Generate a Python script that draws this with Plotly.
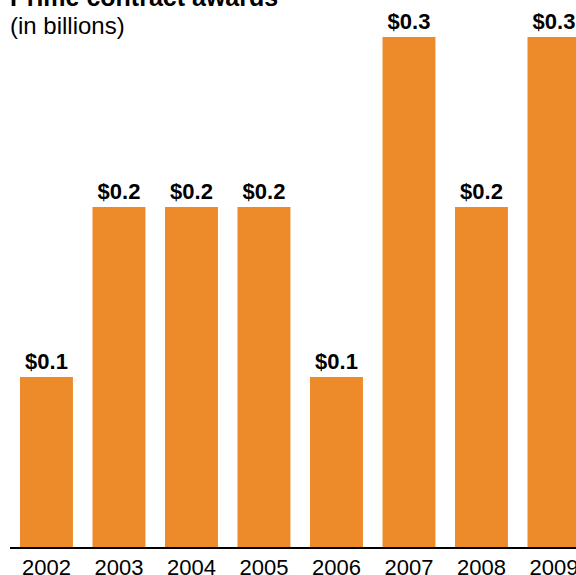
import plotly.graph_objects as go

# Prime contract awards, in billions of dollars
years = ["2002", "2003", "2004", "2005", "2006", "2007", "2008", "2009"]
awards = [0.1, 0.2, 0.2, 0.2, 0.1, 0.3, 0.2, 0.3]

BAR_COLOR = "#ED8A2A"
FONT = "Liberation Sans, Arial, sans-serif"

fig = go.Figure(
    go.Bar(
        x=years,
        y=awards,
        marker=dict(color=BAR_COLOR, line=dict(width=0)),
        width=0.73,
        texttemplate="<b>$%{y:.1f}</b>",
        textposition="outside",
        textfont=dict(family=FONT, size=22, color="black"),
        cliponaxis=False,
        hoverinfo="skip",
    )
)

fig.update_layout(
    width=576,
    height=575,
    margin=dict(l=10, r=0, t=0, b=28),
    paper_bgcolor="white",
    plot_bgcolor="white",
    showlegend=False,
    font=dict(family=FONT, color="black"),
)
fig.update_xaxes(
    type="category",
    range=[-0.503, 7.304],
    automargin=False,
    showline=True, linecolor="black", linewidth=2,
    ticks="", showgrid=False, zeroline=False,
    tickfont=dict(size=22, color="black"),
)
fig.update_yaxes(
    range=[0, 0.3218],
    automargin=False,
    showticklabels=False, showgrid=False, zeroline=False, showline=False,
)

fig.add_annotation(
    text="<b>Prime contract awards</b>", xref="paper", yref="paper",
    x=-0.0035, y=1.0, xanchor="left", yanchor="middle", yshift=3,
    showarrow=False, font=dict(size=25, color="black"),
)
fig.add_annotation(
    text="(in billions)", xref="paper", yref="paper",
    x=-0.0035, y=1.0, xanchor="left", yanchor="middle", yshift=-25,
    showarrow=False, font=dict(size=24, color="black"),
)

# drop the page's default body margin so the figure sits at the window corner
fig.write_html(
    "out.html",
    config={"displayModeBar": False},
    post_script="document.body.style.margin='0';document.body.style.overflow='hidden';",
)
